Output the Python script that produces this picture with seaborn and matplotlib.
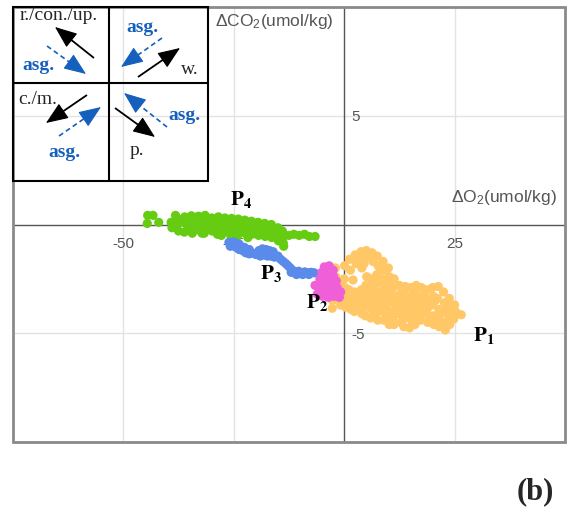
import matplotlib
matplotlib.use('Agg')
import matplotlib.pyplot as plt
import seaborn as sns
import pandas as pd
import numpy as np
from matplotlib.patches import Rectangle

sns.set_style('white')
plt.rcParams['font.family'] = ['Liberation Sans', 'DejaVu Sans']
plt.rcParams['mathtext.fontset'] = 'custom'
plt.rcParams['mathtext.rm'] = 'Liberation Sans'
plt.rcParams['mathtext.it'] = 'Liberation Sans:italic'
plt.rcParams['mathtext.bf'] = 'Liberation Sans:bold'

# ---------------- data ----------------
p1_o2 = [-2.6, -2.7, -2.0, -1.9, -2.1, -1.0, -0.9, -1.1, -0.8,
         0.1, 0.0, 0.2, -0.1, 0.1, 0.3, 1.2, 1.4, 1.1, 1.3, 1.0, 1.5,
         2.5, 2.7, 2.4, 2.6, 2.8, 2.3, 3.8, 3.6, 4.0, 3.9, 3.7, 4.1, 3.8, 4.0,
         5.0, 5.2, 5.1, 4.9, 5.3, 5.0, 5.2, 4.8, 6.3, 6.5, 6.2, 6.4, 6.1, 6.6, 6.3, 6.0,
         7.5, 7.7, 7.4, 7.6, 7.3, 7.8, 7.5, 7.2, 7.6, 8.8, 9.0, 8.7, 8.9, 8.6, 9.1, 8.8, 9.0,
         10.0, 10.2, 9.9, 10.1, 10.3, 9.8, 10.0, 10.2, 11.3, 11.1, 11.4, 11.2, 11.5, 11.0, 11.3,
         12.5, 12.7, 12.4, 12.6, 12.3, 12.8, 13.8, 13.6, 14.0, 13.7, 13.9, 13.5,
         15.0, 15.2, 14.9, 15.1, 15.3, 14.8, 16.3, 16.1, 16.4, 16.2, 16.5, 16.0,
         17.5, 17.7, 17.4, 17.6, 17.3, 18.8, 18.6, 19.0, 18.7, 18.9,
         20.0, 20.2, 19.9, 20.1, 20.3, 21.3, 21.1, 21.4, 21.2, 21.5,
         22.5, 22.7, 22.4, 22.6, 22.9, 23.8, 24.0, 23.7, 23.9, 25.0, 25.2, 26.5,
         0.7, 3.2, 5.7, 8.2, 10.6, 13.1, 15.6, 18.1, 20.6, 23.1, 1.9, 4.4, 6.9,
         9.4, 11.9, 14.4, 16.9, 19.4, 21.9, 24.4, -1.5, 2.0, 8.1, 9.5, 4.5, 24.8]
p1_co2 = [-3.5, -3.85, -2.0, -2.4, -3.2, -2.7, -3.0, -3.4, -3.7,
          -1.9, -2.5, -2.9, -3.2, -3.5, -3.8, -1.6, -2.1, -3.0, -3.3, -3.6, -3.9,
          -1.4, -1.8, -3.1, -3.4, -3.7, -4.0, -1.25, -1.6, -2.0, -3.0, -3.3, -3.6, -3.9, -4.1,
          -1.2, -1.5, -2.4, -2.8, -3.2, -3.5, -3.8, -4.2, -1.3, -1.7, -2.5, -2.9, -3.3, -3.6, -3.9, -4.3,
          -1.45, -1.9, -2.3, -2.7, -3.1, -3.4, -3.8, -4.1, -4.4, -1.7, -2.1, -2.5, -3.0, -3.3, -3.7, -4.0, -4.4,
          -2.0, -2.4, -2.8, -3.2, -3.5, -3.9, -4.2, -4.6, -2.5, -2.9, -3.3, -3.6, -4.0, -4.3, -4.6,
          -2.8, -3.2, -3.5, -3.8, -4.1, -4.5, -2.85, -3.2, -3.6, -3.9, -4.3, -4.7,
          -2.9, -3.3, -3.7, -4.0, -4.4, -4.75, -2.8, -3.2, -3.5, -3.9, -4.2, -4.6,
          -2.9, -3.3, -3.7, -4.0, -4.4, -3.0, -3.4, -3.8, -4.1, -4.5,
          -2.9, -3.3, -3.7, -4.2, -4.6, -2.85, -3.4, -3.9, -4.3, -4.7,
          -3.1, -3.6, -4.0, -4.5, -4.85, -3.4, -3.8, -4.2, -4.6, -3.7, -4.0, -4.15,
          -3.15, -3.25, -3.05, -3.55, -3.35, -3.45, -3.05, -3.55, -3.5, -3.95, -3.75, -3.8, -4.1,
          -3.85, -3.75, -4.05, -3.7, -4.25, -4.1, -3.95, -3.05, -2.55, -1.95, -2.7, -1.8, -4.35]

p2_o2 = [-4.5, -3.4, -2.5, -5.1, -3.9, -2.4, -5.5, -4.3, -3.0, -1.8, -6.6, -5.6, -4.4,
         -3.1, -1.6, -0.8, -6.1, -4.9, -3.6, -2.3, -1.1, -2.9, -4.9, -3.7, -2.2, -5.8]
p2_co2 = [-1.95, -1.9, -2.1, -2.2, -2.3, -2.4, -2.5, -2.55, -2.65, -2.6, -2.8, -2.9, -3.0,
          -3.0, -2.9, -3.1, -3.2, -3.3, -3.35, -3.3, -3.35, -2.35, -2.7, -2.85, -3.0, -2.75]

p3_o2 = [-26.1, -25.3, -25.8, -24.5, -23.8, -23.0, -22.3, -21.5, -20.7, -20.0,
         -19.3, -18.5, -17.7, -16.9, -16.1, -19.0, -18.2, -17.4, -16.6, -15.8,
         -15.0, -14.4, -13.8, -13.2, -12.7, -12.2, -11.6, -11.0, -10.3, -9.6,
         -8.9, -8.2, -7.5, -6.8, -12.0, -10.8, -9.4, -8.0,
         -25.0, -23.8, -22.6, -21.5]
p3_co2 = [-0.82, -0.95, -1.0, -1.05, -1.15, -1.2, -1.3, -1.35, -1.32, -1.38,
          -1.2, -1.12, -1.15, -1.2, -1.25, -1.45, -1.4, -1.45, -1.45, -1.5,
          -1.45, -1.6, -1.7, -1.8, -1.9, -2.0, -2.12, -2.18, -2.15, -2.22,
          -2.18, -2.22, -2.2, -2.22, -2.2, -2.3, -2.3, -2.3,
          -0.8, -0.9, -1.05, -1.15]

p4_o2 = [-44.5, -43.3, -44.6, -42.0, -38.2,
         -39.2, -39.0, -37.6, -37.8, -37.5, -36.1, -36.0, -36.2,
         -34.6, -34.5, -34.7, -34.4, -33.0, -33.1, -32.9,
         -31.5, -31.6, -31.4, -31.7, -30.0, -30.1, -29.9,
         -28.5, -28.6, -28.4, -28.7, -27.0, -27.1, -26.9,
         -25.5, -25.6, -25.4, -25.7, -24.0, -24.1, -23.9, -24.2,
         -22.5, -22.6, -22.4, -21.0, -21.1, -20.9, -19.5, -19.6, -19.4,
         -18.0, -18.1, -17.9, -16.5, -16.6, -16.4, -15.0, -15.1, -14.9,
         -14.0, -13.9, -13.8, -12.5, -11.4, -10.2, -9.0, -7.9, -6.6, -13.7,
         -35.3, -32.2, -29.3, -26.2, -23.3, -20.2, -17.3, -15.8, -21.8, -27.8]
p4_co2 = [0.42, 0.42, 0.05, 0.1, 0.42,
          0.1, -0.15, 0.25, 0.0, -0.3, 0.35, 0.05, -0.35,
          0.4, 0.1, -0.2, -0.4, 0.38, 0.05, -0.25,
          0.42, 0.15, -0.15, -0.4, 0.3, 0.0, -0.3,
          0.35, 0.1, -0.2, -0.45, 0.3, 0.0, -0.3,
          0.28, 0.0, -0.3, -0.5, 0.25, -0.05, -0.35, -0.55,
          0.2, -0.1, -0.4, 0.15, -0.15, -0.45, 0.1, -0.2, -0.5,
          0.05, -0.25, -0.55, 0.0, -0.3, -0.6, -0.15, -0.45, -0.75,
          -0.3, -0.6, -0.85, -0.5, -0.45, -0.5, -0.45, -0.55, -0.55, -1.0,
          -0.1, -0.4, 0.15, -0.15, 0.05, -0.3, -0.45, -0.3, -0.6, -0.5]

group_names = ['P1', 'P4', 'P3', 'P2']
group_colors = ['#FFC766', '#66CC11', '#5B8BEA', '#EE5FD8']
label_pos_o2 = [31.5, -6.1, -16.7, -23.4]
label_pos_co2 = [-5.1, -3.6, -2.26, 1.15]
label_texts = [r'$\mathbf{P_1}$', r'$\mathbf{P_2}$', r'$\mathbf{P_3}$', r'$\mathbf{P_4}$']

x_ticks = [-50, -25, 25]
x_tick_labels = ['-50', '-25', '25']
y_ticks = [-5, 5]
y_tick_labels = ['-5', '5']

# ---------------- build frame ----------------
frames = []
for name, xs, ys in [('P1', p1_o2, p1_co2), ('P4', p4_o2, p4_co2),
                     ('P3', p3_o2, p3_co2), ('P2', p2_o2, p2_co2)]:
    frames.append(pd.DataFrame({'dO2': xs, 'dCO2': ys, 'group': name}))
df = pd.concat(frames, ignore_index=True)

fig = plt.figure(figsize=(5.73, 5.15), dpi=100)
ax = fig.add_axes([13/573, 1-442/515, 552/573, 435/515])

sns.scatterplot(data=df, x='dO2', y='dCO2', hue='group',
                palette=dict(zip(group_names, group_colors)),
                s=44, linewidth=0, legend=False, ax=ax, zorder=2)

ax.set_xlim(-75, 50)
ax.set_ylim(-10, 10)
ax.set_xlabel('')
ax.set_ylabel('')

ax.set_xticks(x_ticks)
ax.set_xticklabels(x_tick_labels)
ax.set_yticks(y_ticks)
ax.set_yticklabels(y_tick_labels)
ax.grid(True, color='#e3e3e3', lw=1.0)
ax.set_axisbelow(True)

for side in ['top', 'right']:
    ax.spines[side].set_visible(False)
for side in ['left', 'bottom']:
    ax.spines[side].set_position(('data', 0))
    ax.spines[side].set_color('#555555')
    ax.spines[side].set_linewidth(1.0)
    ax.spines[side].set_zorder(1)

ax.tick_params(axis='x', direction='in', length=3, width=0.8, color='#555555',
               labelsize=11, labelcolor='#555555', pad=9)
ax.tick_params(axis='y', direction='out', length=3, width=0.8, color='#555555',
               labelsize=11, labelcolor='#555555', pad=-8)
for lbl in ax.get_yticklabels():
    lbl.set_horizontalalignment('left')

ax.add_patch(Rectangle((0, 0), 1, 1, transform=ax.transAxes, fill=False,
                       ec='#8a8a8a', lw=2.0, clip_on=False, zorder=5))

ax.text(0.58, 0.966, r'$\Delta$CO$_2$(umol/kg)', transform=ax.transAxes,
        ha='right', va='center', fontsize=12.5, color='#555555')
ax.text(0.9855, 0.563, r'$\Delta$O$_2$(umol/kg)', transform=ax.transAxes,
        ha='right', va='center', fontsize=12.5, color='#555555')

for tx, ty, tt in zip(label_pos_o2, label_pos_co2, label_texts):
    ax.text(tx, ty, tt, ha='center', va='center', fontsize=15,
            math_fontfamily='stix', color='black', zorder=6)

fig.text(0.935, 0.045, '(b)', ha='center', va='center', fontsize=22,
         fontweight='bold', family='Liberation Serif')

# ---------------- inset schematic ----------------
ins = fig.add_axes([13/573, 1-181/515, 195/573, 174/515])
ins.set_xlim(13, 208)
ins.set_ylim(181, 7)
ins.axis('off')
ins.patch.set_alpha(0)
ins.add_patch(Rectangle((13, 7), 195, 174, fill=False, ec='black', lw=1.5, clip_on=False))
ins.plot([109, 109], [7, 181], color='black', lw=1.5)
ins.plot([13, 208], [83, 83], color='black', lw=1.5)

blue = '#1560BD'
black_arrows = [((94, 58), (55, 27)), ((138, 77), (180, 48)),
                ((87, 95), (46, 123)), ((115, 108), (155, 137))]
blue_arrows = [((47, 46), (86, 74)), ((162, 38), (121, 67)),
               ((59, 136), (101, 107)), ((167, 127), (124, 93))]
HL = 19.0  # head length in inset pixel units


def draw_arrow(s, e, color, dashed):
    s = np.array(s, float)
    e = np.array(e, float)
    u = (e - s) / np.hypot(*(e - s))
    base = e - HL * u
    ins.plot([s[0], base[0] + 1.5 * u[0]], [s[1], base[1] + 1.5 * u[1]], color=color,
             lw=1.3 if not dashed else 1.2,
             linestyle=(0, (3, 2)) if dashed else '-', solid_capstyle='butt')
    ins.annotate('', xy=tuple(e), xytext=tuple(base),
                 arrowprops=dict(arrowstyle='-|>,head_length=0.5,head_width=0.2',
                                 color=color, lw=0.8, mutation_scale=28,
                                 shrinkA=0, shrinkB=0))


for (s, e) in black_arrows:
    draw_arrow(s, e, 'black', False)
for (s, e) in blue_arrows:
    draw_arrow(s, e, blue, True)

serif = 'Liberation Serif'
ins.text(20, 16, 'r./con./up.', ha='left', va='center', fontsize=14, family=serif)
ins.text(199, 70, 'w.', ha='right', va='center', fontsize=14, family=serif)
ins.text(18, 100, 'c./m.', ha='left', va='center', fontsize=14, family=serif)
ins.text(130, 151, 'p.', ha='left', va='center', fontsize=14, family=serif)
for (tx, ty) in [(22, 66), (126, 27), (48, 153), (168, 116)]:
    ins.text(tx, ty, 'asg.', ha='left', va='center', fontsize=14, family=serif,
             fontweight='bold', color=blue)

fig.savefig('out.png', dpi=100)
